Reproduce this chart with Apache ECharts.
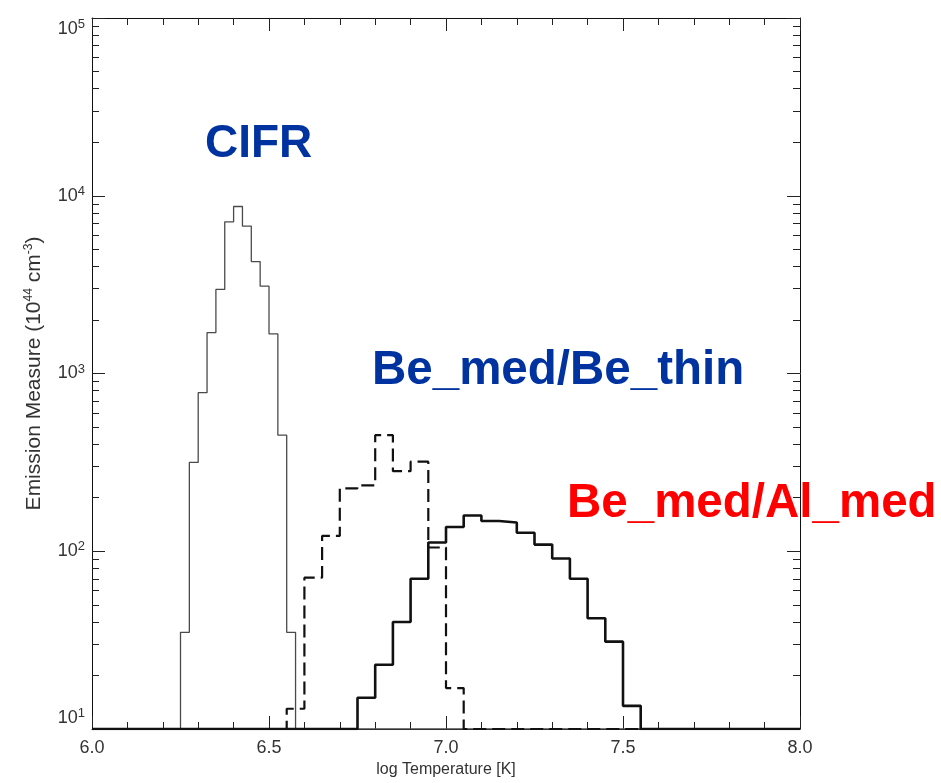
<!DOCTYPE html>
<html><head><meta charset="utf-8">
<script src="https://cdn.jsdelivr.net/npm/echarts@6/dist/echarts.min.js"></script>
<style>html,body{margin:0;padding:0;background:#fff}#c{width:941px;height:783px}</style>
</head><body><div id="c"></div>
<script>
// ---- data ----
var floorEM = 10;
var xTicks = [6.0, 6.5, 7.0, 7.5, 8.0];
var yTicks = [10, 100, 1000, 10000, 100000];

// CIFR: bin left edges and emission measure; last edge closes the histogram
var cifrT  = [6.25, 6.275, 6.30, 6.325, 6.35, 6.375, 6.40, 6.425, 6.45, 6.475, 6.50, 6.525, 6.55];
var cifrEM = [35, 316, 780, 1700, 2970, 7130, 8700, 6740, 4260, 3100, 1670, 450, 35];
var cifrEnd = 6.575;

// Be_med/Be_thin (dashed)
var beThinT  = [6.55, 6.60, 6.65, 6.70, 6.75, 6.80, 6.85, 6.90, 6.95, 7.00];
var beThinEM = [13, 71, 122, 226, 235, 450, 282, 319, 105, 17];
var beThinEnd = 7.05;

// Be_med/Al_med (thick solid)
var alT  = [6.75, 6.80, 6.85, 6.90, 6.95, 7.00, 7.05, 7.10, 7.15, 7.20, 7.25, 7.30, 7.35, 7.40, 7.45, 7.50];
var alEM = [15, 23, 40, 70, 112, 137, 159, 148, 145, 127, 109, 91, 70, 42, 31, 13.5];
var alEnd = 7.55;

function hist(ts, vs, end) {
  var d = [[xTicks[0], floorEM]];
  for (var i = 0; i < ts.length; i++) d.push([ts[i], vs[i]]);
  d.push([end, floorEM]);
  d.push([xTicks[xTicks.length - 1], floorEM]);
  return d;
}

var font = 'Liberation Sans, Arial, Helvetica, sans-serif';
var txt = '#333';

var chart = echarts.init(document.getElementById('c'));
var xCommon = {
  type: 'value', min: 6, max: 8, interval: 0.5,
  axisLine: { show: true, onZero: false, lineStyle: { color: '#111', width: 1 } },
  axisTick: { show: true, inside: true, length: 13, lineStyle: { color: '#222' } },
  minorTick: { show: true, splitNumber: 5, length: 7, lineStyle: { color: '#222' } },
  splitLine: { show: false }, minorSplitLine: { show: false }
};
var yCommon = {
  type: 'log', logBase: 10, min: 10, max: 100000,
  axisLine: { show: true, onZero: false, lineStyle: { color: '#111', width: 1 } },
  axisTick: { show: true, inside: true, length: 13, lineStyle: { color: '#222' } },
  minorTick: { show: true, splitNumber: 9, length: 7, lineStyle: { color: '#222' } },
  splitLine: { show: false }, minorSplitLine: { show: false }
};

chart.setOption({
  animation: false,
  backgroundColor: '#fff',
  grid: { left: 92, right: 141, top: 18, bottom: 44, containLabel: false },
  xAxis: [
    Object.assign({}, xCommon, {
      position: 'bottom',
      name: 'log Temperature [K]', nameLocation: 'middle', nameGap: 33,
      nameTextStyle: { fontFamily: font, fontSize: 16, color: txt },
      axisLabel: { show: true, margin: 10, fontFamily: font, fontSize: 18, color: txt,
        formatter: function (v) { return v.toFixed(1); } }
    }),
    Object.assign({}, xCommon, { position: 'top', axisLabel: { show: false } })
  ],
  yAxis: [
    Object.assign({}, yCommon, {
      position: 'left',
      name: 'Emission Measure (10{s|44} cm{s|-3})', nameLocation: 'middle', nameGap: 47, nameRotate: 90,
      nameTextStyle: { fontFamily: font, fontSize: 21, color: txt,
        rich: { s: { fontFamily: font, fontSize: 12, color: txt, verticalAlign: 'top', padding: [0, 0, 10, 0] } } },
      axisLabel: { show: true, margin: 7, fontFamily: font, fontSize: 18, color: txt,
        verticalAlignMinLabel: 'bottom', verticalAlignMaxLabel: 'top',
        formatter: function (v) { return '10{s|' + Math.round(Math.log10(v)) + '}'; },
        rich: { s: { fontFamily: font, fontSize: 13, color: txt, verticalAlign: 'top', padding: [0, 0, 9, 0] } } }
    }),
    Object.assign({}, yCommon, { position: 'right', axisLabel: { show: false } })
  ],
  series: [
    { name: 'CIFR', type: 'line', step: 'end', showSymbol: false, symbol: 'none',
      data: hist(cifrT, cifrEM, cifrEnd), xAxisIndex: 0, yAxisIndex: 0,
      lineStyle: { color: '#4a4a4a', width: 1.3 }, z: 3 },
    { name: 'Be_med/Be_thin', type: 'line', step: 'end', showSymbol: false, symbol: 'none',
      data: hist(beThinT, beThinEM, beThinEnd), xAxisIndex: 0, yAxisIndex: 0,
      lineStyle: { color: '#111', width: 2.2, type: [13, 6] }, z: 4 },
    { name: 'Be_med/Al_med', type: 'line', step: 'end', showSymbol: false, symbol: 'none',
      data: hist(alT, alEM, alEnd), xAxisIndex: 0, yAxisIndex: 0,
      lineStyle: { color: '#111', width: 2.6 }, z: 5 }
  ],
  graphic: [
    { type: 'text', left: 205, top: 121, style: { text: 'CIFR', fill: '#0033a0',
      font: 'bold 46px ' + font } },
    { type: 'text', left: 372, top: 347, style: { text: 'Be_med/Be_thin', fill: '#0033a0',
      font: 'bold 47.5px ' + font } },
    { type: 'text', left: 567, top: 480, style: { text: 'Be_med/Al_med', fill: '#ff0000',
      font: 'bold 47.5px ' + font } }
  ]
});
</script></body></html>
